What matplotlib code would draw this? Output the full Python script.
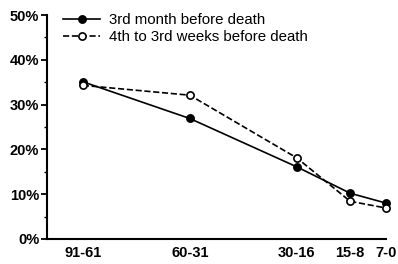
import numpy as np
import matplotlib
matplotlib.use("Agg")
import matplotlib.pyplot as plt
from matplotlib.ticker import MultipleLocator, FuncFormatter

plt.rcParams['font.family'] = ['Liberation Sans', 'DejaVu Sans']

# days-before-death intervals
categories = ['91-61', '60-31', '30-16', '15-8', '7-0']
x_pos = [0, 2, 4, 5, 5.67]

# percentages
month3 = [35.1, 26.9, 16.1, 10.2, 8.0]
weeks4_3 = [34.3, 32.1, 18.1, 8.4, 6.9]

fig = plt.figure(figsize=(3.98, 2.64), dpi=100)
ax = fig.add_axes([0.118, 0.095, 0.852, 0.848])

ax.plot(x_pos, month3, '-o', color='black', lw=1.2, ms=5.2,
        mfc='black', mec='black', mew=1.2, label='3rd month before death',
        clip_on=False, zorder=3)
ax.plot(x_pos, weeks4_3, '--o', color='black', lw=1.2, ms=5.2,
        mfc='white', mec='black', mew=1.2, label='4th to 3rd weeks before death',
        clip_on=False, zorder=4)

ax.set_xlim(-0.67, 5.67)
ax.set_ylim(0, 50)
ax.set_xticks(x_pos)
ax.set_xticklabels(categories, fontweight='bold', fontsize=10.5)
ax.tick_params(axis='x', length=0, pad=5)

ax.yaxis.set_major_locator(MultipleLocator(10))
ax.yaxis.set_minor_locator(MultipleLocator(5))
ax.yaxis.set_major_formatter(FuncFormatter(lambda v, p: f'{v:.0f}%'))
ax.tick_params(axis='y', which='major', length=4, width=1.3, labelsize=10.5, pad=1.5)
ax.tick_params(axis='y', which='minor', length=2.5, width=1.0)
for lab in ax.get_yticklabels():
    lab.set_fontweight('bold')

for s in ['top', 'right']:
    ax.spines[s].set_visible(False)
for s in ['left', 'bottom']:
    ax.spines[s].set_linewidth(1.5)

ax.legend(loc='upper left', bbox_to_anchor=(0.007, 1.07), frameon=False,
          fontsize=10.8, handlelength=2.5, handletextpad=0.55, labelspacing=0.2)

fig.savefig('out.png', dpi=100)
